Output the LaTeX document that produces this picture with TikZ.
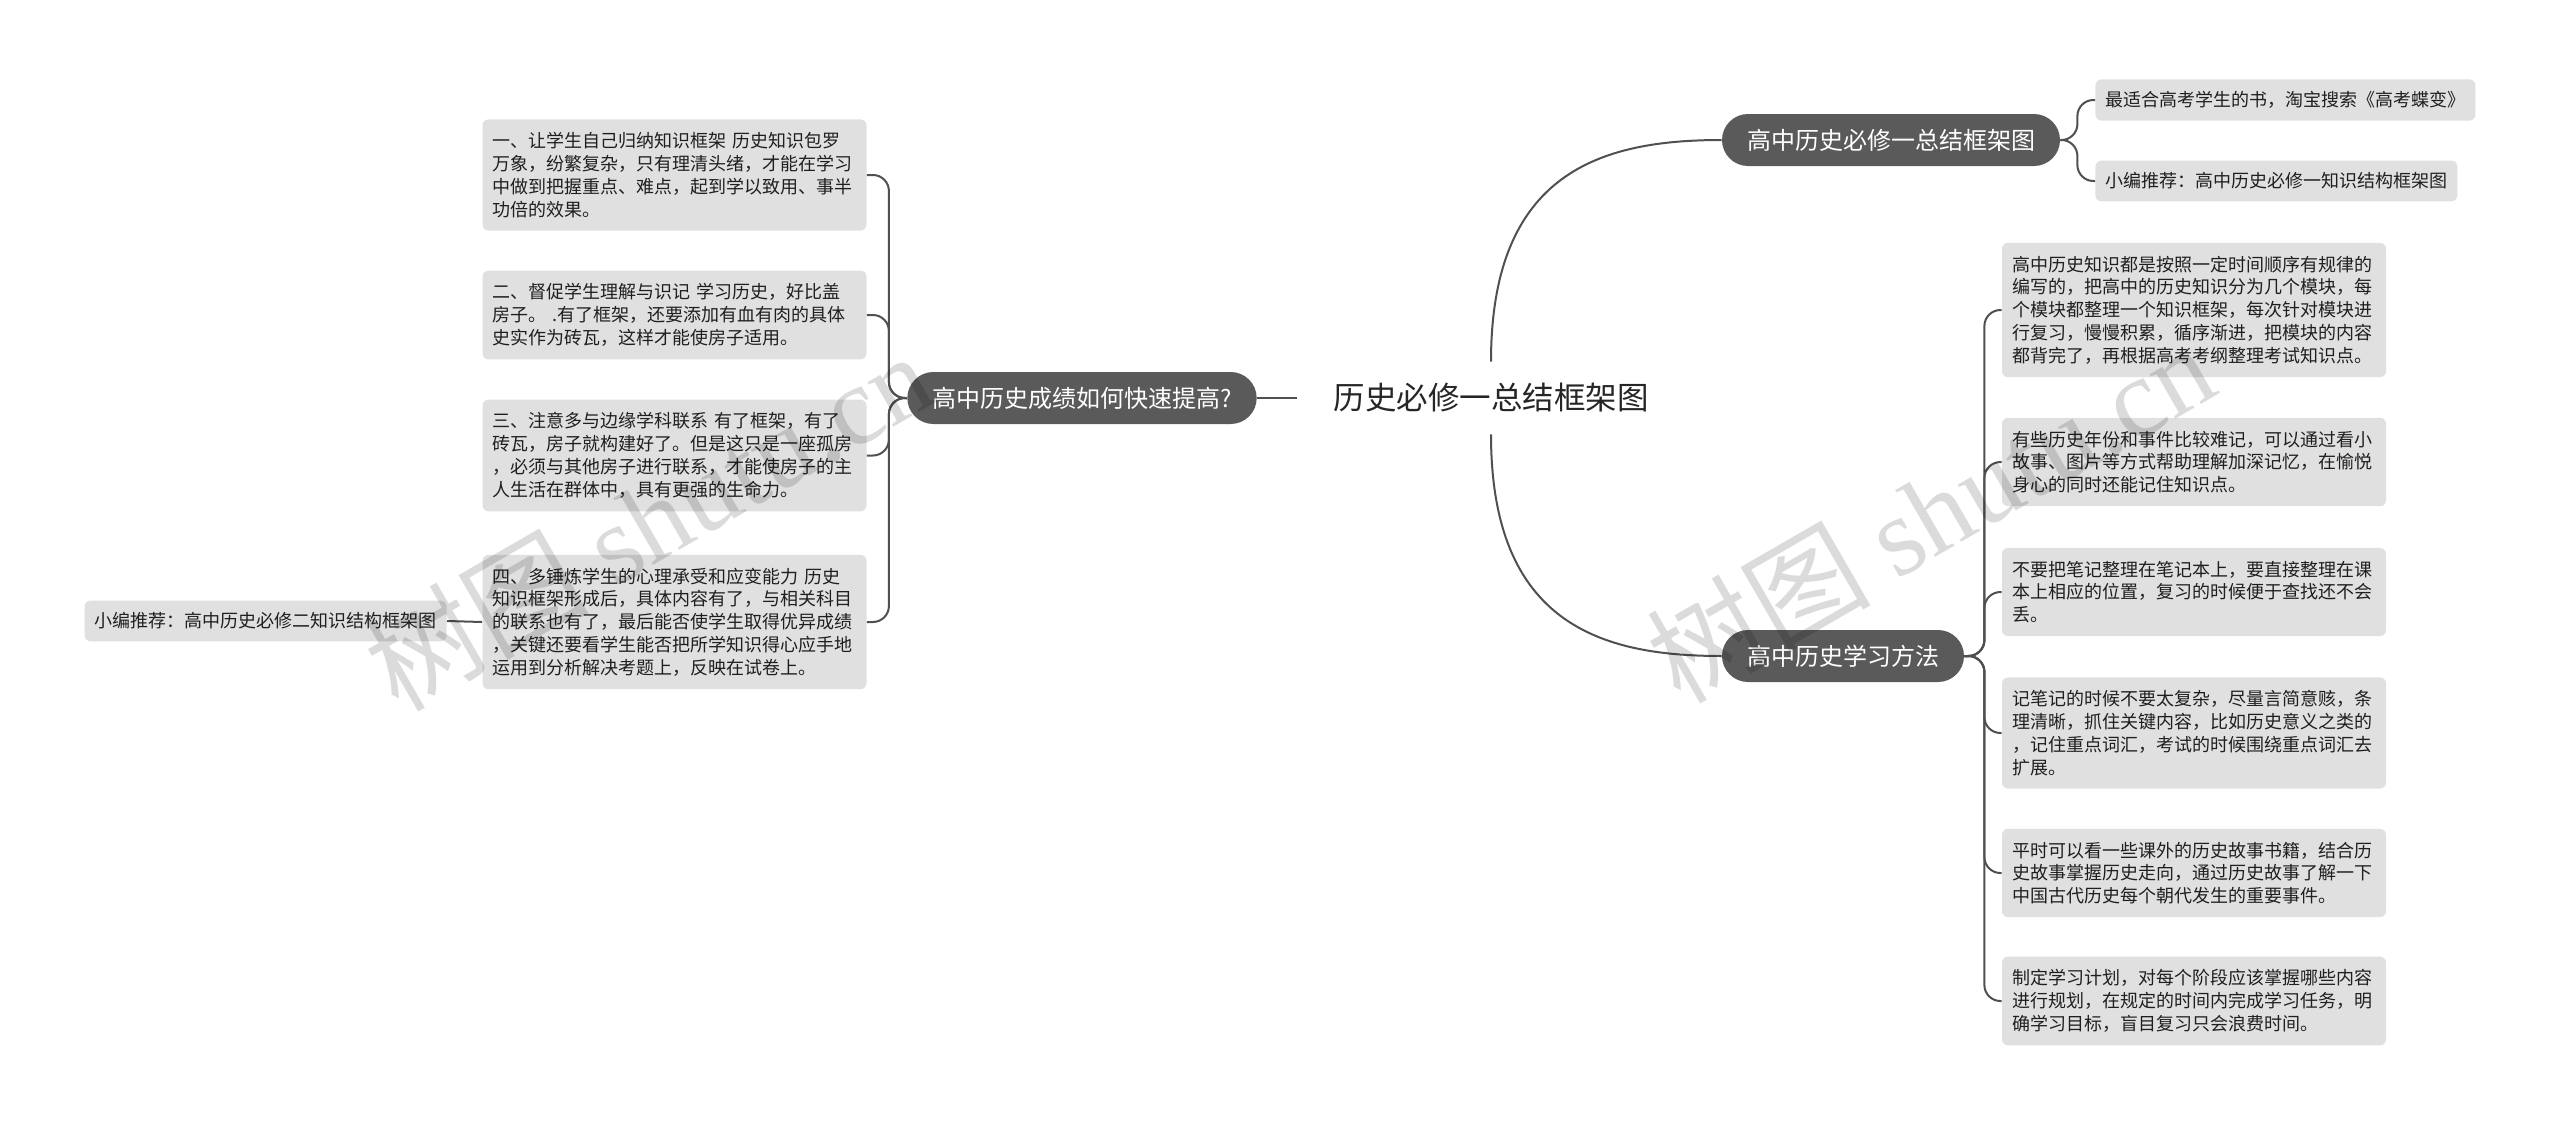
\documentclass[tikz,border=0pt]{standalone}
\usepackage{fontspec}
\setmainfont{Noto Sans CJK SC}
\newfontfamily\wmserif{Liberation Serif}
\definecolor{leafgray}{HTML}{E0E0E0}
\definecolor{topicgray}{HTML}{5A5A5A}
\definecolor{linkgray}{HTML}{505050}
\definecolor{roottext}{HTML}{262626}
\tikzset{
  leaf/.style={fill=leafgray, rounded corners=3pt, inner xsep=5pt, inner ysep=6.5pt,
    text width=182pt, align=left, font=\fontsize{9}{11.4}\selectfont, text=black!88},
  leafone/.style={fill=leafgray, rounded corners=3pt, inner xsep=5pt, inner ysep=6pt,
    font=\fontsize{9}{11.4}\selectfont, text=black!88},
  topic/.style={fill=topicgray, text=white, rounded corners=13pt, minimum height=26pt,
    inner xsep=12.5pt, font=\fontsize{12}{14}\selectfont},
  rootnode/.style={minimum width=193.5pt, minimum height=36pt, inner sep=0pt,
    font=\fontsize{15.75}{18}\selectfont, text=roottext},
  link/.style={draw=linkgray, line width=1pt},
  bracket/.style={draw=linkgray, line width=1pt, rounded corners=8pt},
  watermark/.style={rotate=30, text=black, text opacity=0.14, font=\fontsize{56}{60}\selectfont}
}
\begin{document}
\begin{tikzpicture}[x=0.5pt,y=-0.5pt]
\useasboundingbox (0,0) rectangle (2560,1125);

% root
\node[rootnode] (root) at (1491,398) {历史必修一总结框架图};

% main topics
\node[topic] (lq) at (1082,398) {高中历史成绩如何快速提高?};
\node[topic] (rt) at (1891,140) {高中历史必修一总结框架图};
\node[topic] (rb) at (1843,656) {高中历史学习方法};

% left leaves
\node[leaf] (L1) at (674.5,175) {一、让学生自己归纳知识框架 历史知识包罗\\万象，纷繁复杂，只有理清头绪，才能在学习\\中做到把握重点、难点，起到学以致用、事半\\功倍的效果。};
\node[leaf] (L2) at (674.5,315) {二、督促学生理解与识记 学习历史，好比盖\\房子。 .有了框架，还要添加有血有肉的具体\\史实作为砖瓦，这样才能使房子适用。};
\node[leaf] (L3) at (674.5,455.5) {三、注意多与边缘学科联系 有了框架，有了\\砖瓦，房子就构建好了。但是这只是一座孤房\\，必须与其他房子进行联系，才能使房子的主\\人生活在群体中，具有更强的生命力。};
\node[leaf] (L4) at (674.5,622) {四、多锤炼学生的心理承受和应变能力 历史\\知识框架形成后，具体内容有了，与相关科目\\的联系也有了，最后能否使学生取得优异成绩\\，关键还要看学生能否把所学知识得心应手地\\运用到分析解决考题上，反映在试卷上。};
\node[leafone, anchor=east] (FL) at (447,621) {小编推荐：高中历史必修二知识结构框架图};

% top right leaves
\node[leafone, anchor=west] (T1) at (2095,100) {最适合高考学生的书，淘宝搜索《高考蝶变》};
\node[leafone, anchor=west] (T2) at (2095,181) {小编推荐：高中历史必修一知识结构框架图};

% right leaves
\node[leaf] (R1) at (2194,310) {高中历史知识都是按照一定时间顺序有规律的\\编写的，把高中的历史知识分为几个模块，每\\个模块都整理一个知识框架，每次针对模块进\\行复习，慢慢积累，循序渐进，把模块的内容\\都背完了，再根据高考考纲整理考试知识点。};
\node[leaf] (R2) at (2194,462) {有些历史年份和事件比较难记，可以通过看小\\故事、图片等方式帮助理解加深记忆，在愉悦\\身心的同时还能记住知识点。};
\node[leaf] (R3) at (2194,592) {不要把笔记整理在笔记本上，要直接整理在课\\本上相应的位置，复习的时候便于查找还不会\\丢。};
\node[leaf] (R4) at (2194,733) {记笔记的时候不要太复杂，尽量言简意赅，条\\理清晰，抓住关键内容，比如历史意义之类的\\，记住重点词汇，考试的时候围绕重点词汇去\\扩展。};
\node[leaf] (R5) at (2194,873) {平时可以看一些课外的历史故事书籍，结合历\\史故事掌握历史走向，通过历史故事了解一下\\中国古代历史每个朝代发生的重要事件。};
\node[leaf] (R6) at (2194,1001) {制定学习计划，对每个阶段应该掌握哪些内容\\进行规划，在规定的时间内完成学习任务，明\\确学习目标，盲目复习只会浪费时间。};

% connectors from root
\draw[link] (lq.east) -- (root.west);
\draw[link] (root.north) .. controls +(0,-190) and +(-120,0) .. (rt.west);
\draw[link] (root.south) .. controls +(0,190) and +(-120,0) .. (rb.west);

% left brackets
\foreach \c in {L1,L2,L3,L4}
  \draw[bracket] (lq.west) -- ++(-18,0) |- (\c.east);
\draw[link] (L4.west) -- (FL.east);

% top right brackets
\foreach \c in {T1,T2}
  \draw[bracket] (rt.east) -- ++(17,0) |- (\c.west);

% right brackets
\foreach \c in {R1,R2,R3,R4,R5,R6}
  \draw[bracket] (rb.east) -- ++(20,0) |- (\c.west);

% watermarks
\node[watermark] (wm1) at (648,520) {树图 {\wmserif shutu.cn}};
\node[watermark] (wm2) at (1930,512) {树图 {\wmserif shutu.cn}};
\end{tikzpicture}
\end{document}
